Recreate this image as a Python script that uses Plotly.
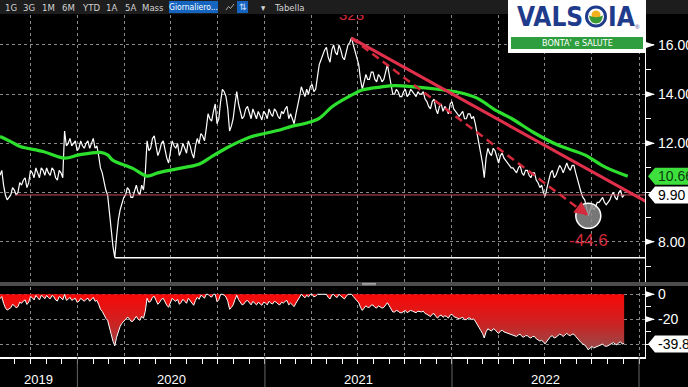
import numpy as np
import pandas as pd
import plotly.graph_objects as go

# ---------------- data ----------------
start_date = "2019-08-03"          # first weekly observation
price_weekly = [
    10.7, 10.3, 9.7, 9.9, 10.1, 10.0, 10.3, 10.6, 10.4, 10.8,
    11.0, 10.6, 10.9, 11.0, 10.7, 10.9, 10.5, 10.8, 12.5, 12.0,
    11.9, 12.1, 11.8, 11.9, 12.0, 11.8, 12.2, 11.9, 11.0, 10.4,
    9.9, 8.5, 7.35, 8.9, 9.6, 9.9, 10.1, 9.8, 10.3, 9.9,
    10.1, 12.1, 11.8, 12.3, 11.5, 12.0, 11.7, 11.2, 12.1, 11.8,
    11.5, 12.0, 11.6, 11.9, 11.4, 12.2, 12.4, 12.1, 13.2, 12.9,
    13.6, 13.0, 14.2, 13.9, 12.5, 13.0, 14.1, 13.3, 13.1, 13.5,
    13.0, 13.2, 13.3, 12.95, 13.2, 13.4, 13.1, 13.3, 13.0, 13.2,
    13.5, 13.2, 12.8, 13.5, 14.3, 13.9, 14.0, 14.4, 14.2, 15.2,
    15.6, 15.9, 15.3, 16.0, 15.6, 15.8, 15.4, 16.0, 16.3, 15.7,
    15.2, 14.2, 14.8, 14.6, 14.9, 14.5, 14.7, 14.6, 15.2, 14.3,
    14.0, 14.1, 13.9, 14.2, 14.0, 14.1, 13.9, 14.0, 14.1, 13.7,
    13.4, 13.8, 13.2, 13.6, 13.5, 13.2, 13.7, 13.3, 13.1, 13.3,
    13.0, 13.2, 13.1, 12.3, 11.6, 10.6, 11.8, 11.5, 11.7, 11.2,
    11.6, 11.3, 11.1, 11.0, 10.8, 11.1, 10.7, 10.9, 10.6, 10.8,
    10.4, 10.3, 9.85, 10.5, 10.9, 10.7, 11.1, 10.8, 11.2, 10.9,
    11.1, 10.5, 10.0, 9.7, 9.05, 9.5, 9.4, 9.6, 9.8, 9.5,
    9.7, 10.0, 9.7, 10.1, 9.90,
]
# mid-week readings (between consecutive weekly points)
price_midweek = [
    10.9, 9.9, 9.8, 10.2, 9.9, 10.4, 10.5, 10.2, 10.9, 10.6,
    10.8, 11.0, 10.7, 10.8, 11.0, 10.6, 10.9, 10.6, 11.9, 12.2,
    12.0, 11.7, 12.1, 11.8, 12.1, 12.0, 11.8, 11.5, 10.8, 10.1,
    9.3, 7.8, 8.2, 9.3, 9.8, 10.2, 9.8, 10.1, 10.0, 10.3,
    10.8, 11.7, 12.2, 11.9, 11.7, 12.1, 11.4, 11.6, 11.9, 12.0,
    11.7, 11.8, 12.1, 11.6, 11.9, 12.0, 12.3, 12.6, 13.0, 13.3,
    12.8, 13.7, 14.1, 13.4, 12.7, 13.6, 13.6, 13.0, 13.4, 13.2,
    13.4, 13.0, 13.1, 13.3, 13.0, 13.2, 13.4, 13.1, 13.3, 13.4,
    13.0, 13.0, 13.2, 13.9, 14.1, 14.2, 14.3, 14.1, 14.7, 15.4,
    15.8, 15.5, 15.8, 15.7, 16.0, 15.5, 15.7, 16.1, 16.0, 15.4,
    14.6, 14.5, 14.6, 14.9, 14.6, 14.8, 14.5, 14.9, 14.8, 14.0,
    14.2, 13.9, 14.1, 13.9, 14.2, 14.0, 14.1, 14.0, 13.8, 13.5,
    13.7, 13.4, 13.5, 13.3, 13.4, 13.6, 13.4, 13.2, 13.2, 13.0,
    13.2, 13.0, 12.8, 12.0, 11.2, 11.4, 11.6, 11.8, 11.4, 11.5,
    11.4, 11.2, 11.0, 10.9, 11.0, 10.8, 10.9, 10.7, 10.8, 10.5,
    10.2, 10.0, 10.2, 10.8, 10.6, 10.9, 11.0, 11.0, 11.0, 11.1,
    10.8, 10.2, 9.8, 9.4, 9.3, 9.3, 9.6, 9.7, 9.6, 9.6,
    9.9, 9.8, 10.0, 9.8,
]

# 200-day moving average (green), read at week offsets from start_date
ma_weeks = [0, 3, 5.6, 12, 18, 22, 28, 30, 31.4, 37, 41, 44, 50, 55.6, 59, 63,
            66.7, 70, 74, 78, 81, 85, 89, 92.5, 97, 101, 106, 110, 116, 122,
            128, 133, 136, 138, 142.5, 149, 155.5, 163, 168.6, 175]
ma_values = [12.28, 12.07, 11.87, 11.67, 11.40, 11.53, 11.63, 11.53, 11.32, 10.98,
             10.67, 10.80, 10.98, 11.16, 11.46, 11.80, 12.07, 12.27, 12.41, 12.54,
             12.68, 12.81, 13.02, 13.48, 13.88, 14.17, 14.29, 14.35, 14.29, 14.20,
             14.07, 13.84, 13.56, 13.36, 13.02, 12.42, 11.93, 11.53, 11.04, 10.66]

prior_high = 11.1                  # high before the visible window
peak_idx, low_idx, covid_idx = 98, 164, 32   # weekly indices
peak_line_value = 16.28
trend_end_date, trend_end_value = "2023-01-15", 9.63
level_start = "2019-09-01"
last_price_label, ma_label, dd_label = "9.90", "10.66", "-39.8"
dd_label_value = -39.8
fall_label, top_label = "-44.6", "323"
x_range = ["2019-08-03", "2023-01-12 16:00"]
line_end = "2023-01-15"

main_ticks = [8, 10, 12, 14, 16]
main_ticktext = ["8.00", "", "12.00", "14.00", "16.00"]
sub_ticks = [0, -20, -40]
sub_ticktext = ["0", "-20", ""]
years = ["2019", "2020", "2021", "2022"]
year_centers = ["2019-10-18", "2020-07-02", "2021-07-02", "2022-07-02"]
year_starts = ["2020-01-01", "2021-01-01", "2022-01-01", "2023-01-01"]
buttons = [("1G", 10.5), ("3G", 29), ("1M", 48.5), ("6M", 68.5), ("YTD", 90.5),
           ("1A", 111.5), ("5A", 130), ("Mass", 153), ("▾", 263), ("Tabella", 289.5)]

# ---------------- series assembly ----------------
t0 = pd.Timestamp(start_date)
weekly_dates = [t0 + pd.Timedelta(days=7 * i) for i in range(len(price_weekly))]
dates, price = [], []
for i, v in enumerate(price_weekly):
    dates.append(weekly_dates[i])
    price.append(v)
    if i < len(price_midweek):
        dates.append(weekly_dates[i] + pd.Timedelta(days=3.5))
        price.append(price_midweek[i])
ma_dates = [t0 + pd.Timedelta(days=7 * w) for w in ma_weeks]

price_arr = np.array(price)
running_max = np.maximum.accumulate(np.maximum(price_arr, prior_high))
drawdown = (price_arr / running_max - 1.0) * 100.0

# ---------------- geometry helpers ----------------
W, H = 688, 387
ML, MR, MT, MB = 0, 43, 15, 30
PW, PH = W - ML - MR, H - MT - MB


def px_x(px):
    return (px - ML) / PW


def px_y(py):
    return (H - MB - py) / PH


main_dom = [px_y(282), 1.0]
sub_dom = [0.0, px_y(287)]
main_rng = [6.36, 17.22]
sub_rng = [-50.16, 5.84]


def val_y(v, dom, rng):
    return dom[0] + (v - rng[0]) / (rng[1] - rng[0]) * (dom[1] - dom[0])


def val_px(v, dom, rng):
    return H - MB - val_y(v, dom, rng) * PH


def ppath(points, close=True):
    s = "M " + " L ".join(f"{px_x(a):.5f},{px_y(b):.5f}" for a, b in points)
    return s + (" Z" if close else "")


NARROW = "Liberation Sans Narrow, DejaVu Sans Condensed, Arial Narrow, sans-serif"
SANS = "Liberation Sans, Arial, sans-serif"
RED = "#d42a3c"

fig = go.Figure()

fig.add_trace(go.Scatter(x=dates, y=price, mode="lines",
                         line=dict(color="white", width=1.2), xaxis="x", yaxis="y"))
fig.add_trace(go.Scatter(x=[level_start, line_end], y=[float(last_price_label)] * 2, mode="lines",
                         line=dict(color="#c8505c", width=1), xaxis="x", yaxis="y"))
fig.add_trace(go.Scatter(x=[weekly_dates[covid_idx], line_end], y=[price_weekly[covid_idx]] * 2,
                         mode="lines", line=dict(color="white", width=1.5), xaxis="x", yaxis="y"))
fig.add_trace(go.Scatter(x=ma_dates, y=ma_values, mode="lines",
                         line=dict(color="#2ee02e", width=3.2, shape="spline", smoothing=1.0),
                         xaxis="x", yaxis="y"))
fig.add_trace(go.Scatter(x=[weekly_dates[low_idx]], y=[price_weekly[low_idx]], mode="markers",
                         marker=dict(size=25, color="rgba(140,140,140,0.85)",
                                     line=dict(color="white", width=1.5)),
                         xaxis="x", yaxis="y"))
fig.add_trace(go.Scatter(x=[weekly_dates[peak_idx], weekly_dates[low_idx]],
                         y=[peak_line_value, price_weekly[low_idx]],
                         mode="lines", line=dict(color=RED, width=2.5, dash="8px,5px"),
                         xaxis="x", yaxis="y"))
fig.add_trace(go.Scatter(x=[weekly_dates[peak_idx], trend_end_date], y=[peak_line_value, trend_end_value],
                         mode="lines", line=dict(color="#e0304c", width=3),
                         xaxis="x", yaxis="y"))
fig.add_trace(go.Scatter(x=[weekly_dates[peak_idx]], y=[17.18], mode="text", text=[top_label],
                         textfont=dict(color=RED, size=15, family=SANS), textposition="middle center",
                         xaxis="x", yaxis="y"))
fig.add_trace(go.Scatter(x=dates, y=drawdown, mode="lines", fill="tozeroy",
                         fillgradient=dict(type="vertical",
                                           colorscale=[[0, "#9c4646"], [0.45, "#cc2222"], [1, "#f80808"]],
                                           start=-42, stop=0),
                         line=dict(color="white", width=1), xaxis="x2", yaxis="y2"))

grid = dict(showgrid=True, gridcolor="#8a8a8a", griddash="3px,3px", gridwidth=1)

shapes = []
annotations = []

for ys in year_starts:
    shapes.append(dict(type="line", xref="x", yref="paper", x0=ys, x1=ys, y0=0, y1=px_y(387),
                       line=dict(color="#666666", width=1)))
for yl, yc in zip(years, year_centers):
    annotations.append(dict(xref="x", yref="paper", x=yc, y=px_y(380), text=yl, showarrow=False,
                            xanchor="center", yanchor="middle",
                            font=dict(color="white", size=13, family=SANS)))

# separator bar between panels
shapes.append(dict(type="rect", xref="paper", yref="paper", x0=px_x(0), x1=px_x(688),
                   y0=px_y(286), y1=px_y(282), fillcolor="#4d4d4d", line=dict(width=0)))
for yy in (283.4, 284.8):
    shapes.append(dict(type="line", xref="paper", yref="paper", x0=px_x(362), x1=px_x(376),
                       y0=px_y(yy), y1=px_y(yy), line=dict(color="#aaaaaa", width=1)))


def tick_label(v, dom, rng, text):
    yp = val_px(v, dom, rng)
    shapes.append(dict(type="path", xref="paper", yref="paper",
                       path=ppath([(646, yp - 3), (655, yp), (646, yp + 3)]),
                       fillcolor="white", line=dict(width=0)))
    annotations.append(dict(xref="paper", yref="paper", x=px_x(656), y=px_y(yp), text=text,
                            showarrow=False, xanchor="left", yanchor="middle",
                            font=dict(color="white", size=14, family=SANS)))


for v, t in zip(main_ticks, main_ticktext):
    if t:
        tick_label(v, main_dom, main_rng, t)
for v, t in zip(sub_ticks, sub_ticktext):
    if t:
        tick_label(v, sub_dom, sub_rng, t)


def value_box(val, dom, rng, fill, text, tcolor):
    yp = val_px(val, dom, rng)
    shapes.append(dict(type="path", xref="paper", yref="paper",
                       path=ppath([(648, yp), (655, yp - 8.5), (692, yp - 8.5), (692, yp + 8.5), (655, yp + 8.5)]),
                       fillcolor=fill, line=dict(width=0)))
    annotations.append(dict(xref="paper", yref="paper", x=px_x(656), y=px_y(yp), text=text,
                            showarrow=False, xanchor="left", yanchor="middle",
                            font=dict(color=tcolor, size=14, family=SANS)))


value_box(float(ma_label), main_dom, main_rng, "#3ee03e", ma_label, "#0b3a0b")
value_box(float(last_price_label), main_dom, main_rng, "white", last_price_label, "black")
value_box(dd_label_value, sub_dom, sub_rng, "white", dd_label, "black")

# toolbar
shapes.append(dict(type="rect", xref="paper", yref="paper", x0=px_x(0), x1=px_x(688),
                   y0=px_y(14), y1=px_y(0), fillcolor="#1d1d1d", line=dict(width=0)))
shapes.append(dict(type="rect", xref="paper", yref="paper", x0=px_x(169), x1=px_x(218),
                   y0=px_y(13), y1=px_y(1), fillcolor="#1565c0", line=dict(width=0)))
shapes.append(dict(type="rect", xref="paper", yref="paper", x0=px_x(237), x1=px_x(248),
                   y0=px_y(13), y1=px_y(1), fillcolor="#1565c0", line=dict(width=0)))
shapes.append(dict(type="path", xref="paper", yref="paper",
                   path=ppath([(226, 10), (228.5, 6.5), (230.5, 8.5), (234, 4)], close=False),
                   line=dict(color="#a8a8a8", width=1)))
for s, cx in buttons:
    annotations.append(dict(xref="paper", yref="paper", x=px_x(cx), y=px_y(7), text=s, showarrow=False,
                            xanchor="center", yanchor="middle",
                            font=dict(color="#d2d2d2", size=9.5, family=NARROW)))
annotations.append(dict(xref="paper", yref="paper", x=px_x(193.5), y=px_y(7), text="Giornaliero...",
                        showarrow=False, xanchor="center", yanchor="middle",
                        font=dict(color="white", size=8.5, family=NARROW)))
annotations.append(dict(xref="paper", yref="paper", x=px_x(242.5), y=px_y(7), text="⇅",
                        showarrow=False, xanchor="center", yanchor="middle",
                        font=dict(color="#cfe0ff", size=9, family="DejaVu Sans")))

# logo
NAVY = "#1f3b8c"
shapes.append(dict(type="rect", xref="paper", yref="paper", x0=px_x(508), x1=px_x(646),
                   y0=px_y(53), y1=px_y(0), fillcolor="white", line=dict(width=0)))
shapes.append(dict(type="rect", xref="paper", yref="paper", x0=px_x(511), x1=px_x(643),
                   y0=px_y(49), y1=px_y(37), fillcolor="#2e9e3e", line=dict(width=0)))
shapes.append(dict(type="circle", xref="paper", yref="paper", x0=px_x(586.5), x1=px_x(605.5),
                   y0=px_y(26), y1=px_y(7), fillcolor="white", line=dict(color=NAVY, width=3)))
shapes.append(dict(type="circle", xref="paper", yref="paper", x0=px_x(591.5), x1=px_x(600.5),
                   y0=px_y(19), y1=px_y(10.5), fillcolor="#f2b01e", line=dict(width=0)))
shapes.append(dict(type="path", xref="paper", yref="paper",
                   path=(f"M {px_x(589):.5f},{px_y(15.5):.5f} Q {px_x(596):.5f},{px_y(19):.5f} "
                         f"{px_x(603):.5f},{px_y(15.5):.5f} Q {px_x(602):.5f},{px_y(23.5):.5f} "
                         f"{px_x(596):.5f},{px_y(23.5):.5f} Q {px_x(590):.5f},{px_y(23.5):.5f} "
                         f"{px_x(589):.5f},{px_y(15.5):.5f} Z"),
                   fillcolor="#3a9a36", line=dict(width=0)))
annotations.append(dict(xref="paper", yref="paper", x=px_x(585), y=px_y(17), text="<b>VALS</b>",
                        showarrow=False, xanchor="right", yanchor="middle",
                        font=dict(color=NAVY, size=26, family=NARROW)))
annotations.append(dict(xref="paper", yref="paper", x=px_x(606), y=px_y(17), text="<b>IA</b>",
                        showarrow=False, xanchor="left", yanchor="middle",
                        font=dict(color=NAVY, size=26, family=NARROW)))
annotations.append(dict(xref="paper", yref="paper", x=px_x(637), y=px_y(27), text="®",
                        showarrow=False, xanchor="center", yanchor="middle",
                        font=dict(color=NAVY, size=6, family=SANS)))
annotations.append(dict(xref="paper", yref="paper", x=px_x(577), y=px_y(43), text="BONTA' e SALUTE",
                        showarrow=False, xanchor="center", yanchor="middle",
                        font=dict(color="white", size=9, family=NARROW)))

# fall label and arrowhead
annotations.append(dict(xref="x", yref="y", x=weekly_dates[low_idx], y=price_weekly[low_idx] + 0.02,
                        ax=-12, ay=-9, axref="pixel", ayref="pixel", text="", showarrow=True,
                        arrowhead=2, arrowsize=1.1, arrowwidth=2.5, arrowcolor=RED))
annotations.append(dict(xref="x", yref="y", x=weekly_dates[low_idx], y=8.05, text=fall_label,
                        showarrow=False, xanchor="center", yanchor="middle",
                        font=dict(color=RED, size=17, family=SANS)))

fig.update_layout(
    width=W, height=H, template="none",
    margin=dict(l=ML, r=MR, t=MT, b=MB, pad=0),
    paper_bgcolor="black", plot_bgcolor="black",
    showlegend=False,
    xaxis=dict(domain=[0, 1], anchor="y", type="date", range=x_range, showticklabels=False,
               ticks="", dtick="M3", tick0="2019-01-01", zeroline=False, showline=False,
               automargin=False, **grid),
    xaxis2=dict(domain=[0, 1], anchor="y2", type="date", range=x_range, matches="x",
                showticklabels=False, ticks="outside", ticklen=5, tickcolor="white",
                dtick="M3", tick0="2019-01-01", zeroline=False, showline=True,
                linecolor="white", linewidth=1.5, automargin=False,
                minor=dict(dtick="M1", tick0="2019-01-01", ticks="outside", ticklen=5,
                           tickcolor="white", showgrid=False),
                **grid),
    yaxis=dict(domain=main_dom, range=main_rng, side="right", anchor="x",
               tickvals=main_ticks, showticklabels=False, ticks="outside", ticklen=8,
               tickcolor="white", showline=True, linecolor="white", linewidth=1,
               zeroline=False, automargin=False,
               minor=dict(tickvals=[7, 9, 11, 13, 15], ticks="outside", ticklen=5,
                          tickcolor="white", showgrid=False),
               **grid),
    yaxis2=dict(domain=sub_dom, range=sub_rng, side="right", anchor="x2",
                tickvals=sub_ticks, showticklabels=False, ticks="outside", ticklen=8,
                tickcolor="white", showline=True, linecolor="white", linewidth=1,
                zeroline=False, automargin=False,
                minor=dict(tickvals=[-10, -30], ticks="outside", ticklen=5,
                           tickcolor="white", showgrid=False),
                **grid),
    shapes=shapes,
    annotations=annotations,
)

fig.write_html("out.html", config={"displayModeBar": False},
               post_script="document.body.style.margin='0';document.body.style.overflow='hidden';")
